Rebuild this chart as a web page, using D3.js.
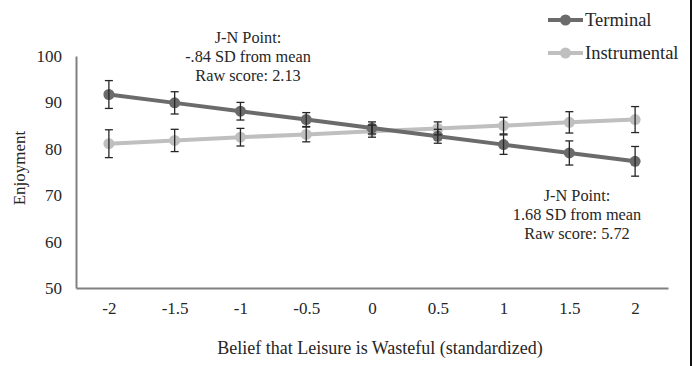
<!DOCTYPE html>
<html>
<head>
<meta charset="utf-8">
<script src="https://cdn.jsdelivr.net/npm/d3@7/dist/d3.min.js"></script>
<style>
  body { margin: 0; background: #fff; }
</style>
</head>
<body>
<div id="chart"></div>
<script>
  // data
  var categories = ["-2", "-1.5", "-1", "-0.5", "0", "0.5", "1", "1.5", "2"];
  var terminal     = [91.7, 89.9, 88.1, 86.3, 84.5, 82.7, 80.9, 79.1, 77.3];
  var terminal_err = [3.0, 2.4, 1.9, 1.5, 1.3, 1.5, 2.1, 2.6, 3.2];
  var instrumental     = [81.1, 81.8, 82.5, 83.1, 83.8, 84.4, 85.0, 85.7, 86.3];
  var instrumental_err = [3.0, 2.4, 1.9, 1.6, 1.3, 1.4, 1.8, 2.3, 2.8];
  var yTicks = [50, 60, 70, 80, 90, 100];
  var seriesNames = ["Terminal", "Instrumental"];
  var seriesColors = ["#6b6b6b", "#bfbfbf"];

  var FONT = "'Liberation Serif', 'Times New Roman', 'DejaVu Serif', serif";
  var TXT = "#262626";

  var W = 692, H = 366;
  var margin = {top: 56, right: 24, bottom: 78, left: 76};
  var width = W - margin.left - margin.right,
      height = H - margin.top - margin.bottom;

  var svg = d3.select("#chart").append("svg")
      .attr("width", W)
      .attr("height", H)
      .attr("font-family", FONT);

  // thin frame edge on the right, as in the source image
  svg.append("line")
      .attr("x1", W - 1).attr("x2", W - 1)
      .attr("y1", 0).attr("y2", H)
      .attr("stroke", "#111")
      .attr("stroke-width", 2);

  var g = svg.append("g")
      .attr("transform", "translate(" + margin.left + "," + margin.top + ")");

  ////// scales //////
  var xScale = d3.scalePoint()
      .domain(categories)
      .range([0, width])
      .padding(0.5);

  var yScale = d3.scaleLinear()
      .domain([50, 100])
      .range([height, 0]);

  ////// axes //////
  var yAxis = d3.axisLeft(yScale)
      .tickValues(yTicks)
      .tickSize(0)
      .tickPadding(14);

  var xAxis = d3.axisBottom(xScale)
      .tickSize(0)
      .tickPadding(14);

  var gy = g.append("g").call(yAxis).attr("font-family", FONT);
  gy.select(".domain").attr("stroke", "#808080").attr("stroke-width", 2);
  gy.selectAll("text").attr("font-size", 17).attr("fill", TXT);

  var gx = g.append("g")
      .attr("transform", "translate(0," + height + ")")
      .call(xAxis)
      .attr("font-family", FONT);
  gx.select(".domain").attr("stroke", "#808080").attr("stroke-width", 2);
  gx.selectAll("text").attr("font-size", 17).attr("fill", TXT);

  // axis titles
  g.append("text")
      .attr("transform", "translate(-51," + (height / 2 - 4) + ") rotate(-90)")
      .attr("text-anchor", "middle")
      .attr("font-size", 17)
      .attr("fill", TXT)
      .text("Enjoyment");

  svg.append("text")
      .attr("x", 380)
      .attr("y", 354)
      .attr("text-anchor", "middle")
      .attr("font-size", 18)
      .attr("fill", TXT)
      .text("Belief that Leisure is Wasteful (standardized)");

  ////// series //////
  function drawSeries(values, errs, color) {
    var data = categories.map(function(c, i) {
      return {x: c, y: values[i], e: errs[i]};
    });

    var line = d3.line()
        .x(function(d) { return xScale(d.x); })
        .y(function(d) { return yScale(d.y); });

    g.append("path")
        .datum(data)
        .attr("fill", "none")
        .attr("stroke", color)
        .attr("stroke-width", 4)
        .attr("d", line);

    g.append("g").selectAll("circle")
        .data(data)
        .enter()
        .append("circle")
        .attr("cx", function(d) { return xScale(d.x); })
        .attr("cy", function(d) { return yScale(d.y); })
        .attr("r", 5.5)
        .attr("fill", color);

    return data;
  }

  function drawErrors(data) {
    var eg = g.append("g")
        .attr("stroke", "#262626")
        .attr("stroke-width", 1.3);
    data.forEach(function(d) {
      var cx = xScale(d.x);
      var y1 = yScale(d.y + d.e), y2 = yScale(d.y - d.e);
      eg.append("line").attr("x1", cx).attr("x2", cx).attr("y1", y1).attr("y2", y2);
      eg.append("line").attr("x1", cx - 4).attr("x2", cx + 4).attr("y1", y1).attr("y2", y1);
      eg.append("line").attr("x1", cx - 4).attr("x2", cx + 4).attr("y1", y2).attr("y2", y2);
    });
  }

  var instData = drawSeries(instrumental, instrumental_err, seriesColors[1]);
  var termData = drawSeries(terminal, terminal_err, seriesColors[0]);
  drawErrors(instData);
  drawErrors(termData);

  ////// legend //////
  seriesNames.forEach(function(name, i) {
    var ly = 20 + i * 33;
    var lg = svg.append("g");
    lg.append("line")
        .attr("x1", 548).attr("x2", 583)
        .attr("y1", ly).attr("y2", ly)
        .attr("stroke", seriesColors[i])
        .attr("stroke-width", 4);
    lg.append("circle")
        .attr("cx", 565.5).attr("cy", ly)
        .attr("r", 5.5)
        .attr("fill", seriesColors[i]);
    lg.append("text")
        .attr("x", 585).attr("y", ly + 6)
        .attr("font-size", 18.5)
        .attr("fill", TXT)
        .text(name);
  });

  ////// J-N annotations //////
  function note(cx, cy, lines) {
    var t = svg.append("text")
        .attr("text-anchor", "middle")
        .attr("font-size", 16.3)
        .attr("fill", TXT);
    lines.forEach(function(s, i) {
      t.append("tspan")
          .attr("x", cx)
          .attr("y", cy + i * 19)
          .text(s);
    });
  }
  note(248, 43, ["J-N Point:", "-.84 SD from mean", "Raw score: 2.13"]);
  note(577, 201, ["J-N Point:", "1.68 SD from mean", "Raw score: 5.72"]);
</script>
</body>
</html>
